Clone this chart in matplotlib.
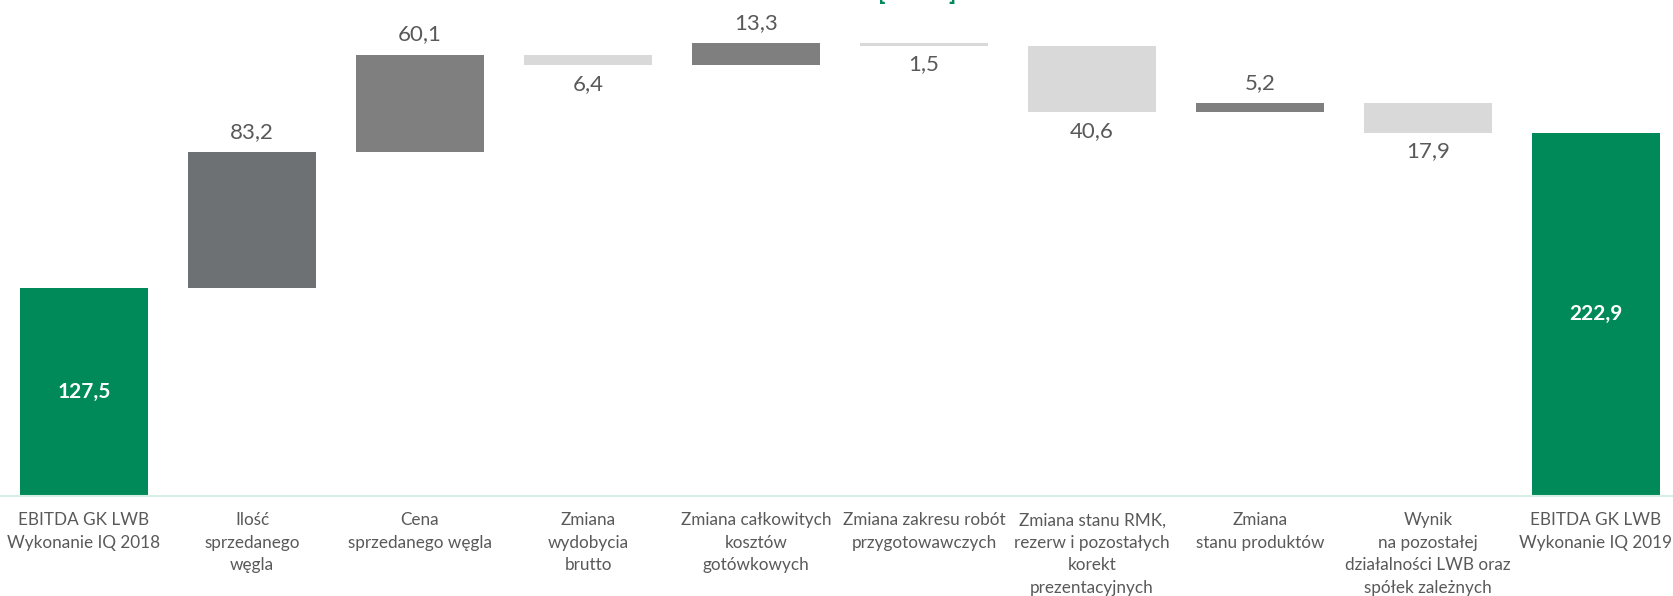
import matplotlib
matplotlib.use("Agg")
import matplotlib.pyplot as plt
import numpy as np

categories = [
    "EBITDA GK LWB\nWykonanie IQ 2018",
    "Ilość\nsprzedanego\nwęgla",
    "Cena\nsprzedanego węgla",
    "Zmiana\nwydobycia\nbrutto",
    "Zmiana całkowitych\nkosztów\ngotówkowych",
    "Zmiana zakresu robót\nprzygotowawczych",
    "Zmiana stanu RMK,\nrezerw i pozostałych\nkorekt\nprezentacyjnych",
    "Zmiana\nstanu produktów",
    "Wynik\nna pozostałej\ndziałalności LWB oraz\nspółek zależnych",
    "EBITDA GK LWB\nWykonanie IQ 2019",
]
start_value = 127.5
changes = [83.2, 60.1, -6.4, 13.3, -1.5, -40.6, 5.2, -17.9]
end_value = 222.9
unit_label = "[mln zł]"

GREEN = "#008A5A"
DARK1 = "#6E7174"
DARK = "#7F7F7F"
LIGHT = "#D9D9D9"
TXT = "#595959"

plt.rcParams['font.family'] = ['Lato', 'DejaVu Sans']

fig = plt.figure(figsize=(16.73, 5.96), dpi=100)
ax = fig.add_axes([0, 0.1683, 1, 0.8317])

x = np.arange(len(categories))
w = 0.76

def fmt(v):
    return f"{abs(v):.1f}".replace(".", ",")

# start bar
ax.bar(x[0], start_value, width=w, color=GREEN)
ax.text(x[0], start_value / 2, fmt(start_value), ha='center', va='center',
        color='white', fontsize=15, fontweight='bold')

cum = start_value
for i, c in enumerate(changes):
    xi = x[i + 1]
    if c >= 0:
        col = DARK1 if i == 0 else DARK
        ax.bar(xi, c, bottom=cum, width=w, color=col)
        ax.annotate(fmt(c), (xi, cum + c), xytext=(0, 14.5), textcoords='offset points',
                    ha='center', va='center', color=TXT, fontsize=16)
    else:
        ax.bar(xi, -c, bottom=cum + c, width=w, color=LIGHT)
        ax.annotate(fmt(c), (xi, cum + c), xytext=(0, -13.5), textcoords='offset points',
                    ha='center', va='center', color=TXT, fontsize=16)
    cum += c

ax.bar(x[-1], end_value, width=w, color=GREEN)
ax.text(x[-1], end_value / 2, fmt(end_value), ha='center', va='center',
        color='white', fontsize=15, fontweight='bold')

ax.set_xlim(-0.5, 9.458)
ax.set_ylim(0, 304.3)
ax.set_xticks(x)
ax.set_xticklabels(categories, color=TXT, fontsize=12.3, linespacing=1.5)
ax.tick_params(axis='x', length=0, pad=12)
ax.set_yticks([])
for s in ['top', 'right', 'left']:
    ax.spines[s].set_visible(False)
ax.spines['bottom'].set_color('#D5F0E3')
ax.spines['bottom'].set_linewidth(1.5)

fig.text(0.5485, 1.0, unit_label, ha='center', va='baseline',
         color=GREEN, fontsize=17, fontweight='bold')

fig.savefig("out.png", dpi=100)
